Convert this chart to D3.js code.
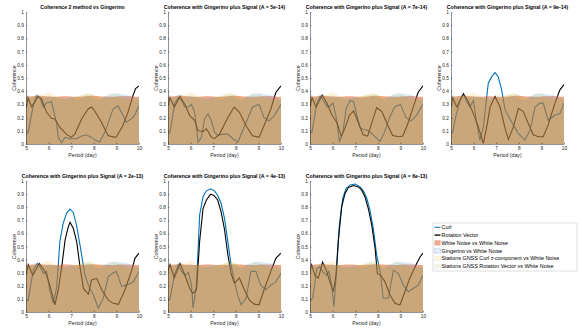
<!DOCTYPE html>
<html>
<head>
<meta charset="utf-8">
<script src="https://cdn.jsdelivr.net/npm/d3@7"></script>
<style>
  body { margin: 0; background: #fff; }
  svg { font-family: "Liberation Sans", Arial, sans-serif; }
  .axis path, .axis line { stroke: #262626; stroke-width: 0.5; }
  .axis text { fill: #262626; font-size: 4.8px; }
</style>
</head>
<body>
<div id="chart"></div>
<script>
// period grid of the noise reference bands (same in every panel)
var noisePeriod = [5, 5.25, 5.5, 5.75, 6, 6.25, 6.5, 6.75, 7, 7.25, 7.5, 7.75, 8, 8.25, 8.5, 8.75, 9, 9.25, 9.5, 9.75, 10];
var whiteNoise     = [0.36, 0.362, 0.365, 0.363, 0.36, 0.358, 0.36, 0.362, 0.36, 0.358, 0.36, 0.363, 0.365, 0.362, 0.36, 0.358, 0.36, 0.362, 0.363, 0.36, 0.358];
var gingerinoNoise = [0.39, 0.345, 0.375, 0.35, 0.36, 0.35, 0.335, 0.34, 0.35, 0.335, 0.345, 0.36, 0.345, 0.33, 0.355, 0.37, 0.38, 0.375, 0.37, 0.35, 0.33];
var stationsCurl   = [0.35, 0.36, 0.37, 0.375, 0.39, 0.37, 0.34, 0.33, 0.345, 0.36, 0.375, 0.38, 0.37, 0.35, 0.34, 0.345, 0.355, 0.345, 0.335, 0.345, 0.35];
var stationsRot    = [0.355, 0.35, 0.36, 0.355, 0.35, 0.36, 0.355, 0.345, 0.35, 0.36, 0.37, 0.385, 0.37, 0.345, 0.36, 0.385, 0.38, 0.36, 0.34, 0.33, 0.34];

// [period, coherence]
var curlBase = [[5,0.075],[5.1,0.09],[5.32,0.29],[5.47,0.365],[5.62,0.35],[5.76,0.28],[5.9,0.31],[6.13,0.32],[6.35,0.16],[6.43,0.05],[6.57,0.01],[6.72,0.05],[6.95,0.04],[7.24,0.04],[7.46,0.06],[7.68,0.07],[7.9,0.05],[8.12,0.025],[8.26,0.015],[8.49,0.09],[8.7,0.19],[8.85,0.265],[9.07,0.29],[9.22,0.24],[9.44,0.165],[9.66,0.19],[9.8,0.215],[10,0.29]];
var rotBase = [[5,0.27],[5.09,0.35],[5.25,0.28],[5.54,0.36],[5.69,0.34],[5.91,0.24],[6.13,0.195],[6.28,0.19],[6.5,0.125],[6.79,0.075],[7,0.05],[7.16,0.075],[7.46,0.19],[7.75,0.265],[7.9,0.28],[8.04,0.25],[8.34,0.165],[8.63,0.065],[8.93,0.05],[9.0,0.055],[9.29,0.14],[9.51,0.24],[9.74,0.37],[9.85,0.42],[10,0.44]];

var curl5e14 = [[5,0.075],[5.09,0.09],[5.3,0.31],[5.45,0.35],[5.6,0.33],[5.75,0.28],[5.9,0.28],[6.04,0.30],[6.18,0.24],[6.33,0.015],[6.48,0.05],[6.62,0.19],[6.77,0.23],[6.92,0.175],[7.06,0.09],[7.2,0.065],[7.43,0.075],[7.65,0.075],[7.87,0.04],[8.1,0.015],[8.3,0.10],[8.52,0.19],[8.74,0.28],[9.03,0.30],[9.25,0.20],[9.47,0.175],[9.7,0.215],[10,0.30]];
var rot5e14 = [[5,0.29],[5.09,0.35],[5.28,0.28],[5.53,0.36],[5.75,0.30],[5.96,0.215],[6.18,0.18],[6.33,0.10],[6.55,0.095],[6.7,0.115],[6.92,0.05],[7.06,0.04],[7.28,0.075],[7.57,0.175],[7.87,0.265],[7.94,0.28],[8.16,0.24],[8.45,0.14],[8.74,0.063],[9.03,0.05],[9.25,0.14],[9.55,0.265],[9.77,0.39],[10,0.44]];

var curl7e14 = [[5,0.08],[5.09,0.09],[5.3,0.31],[5.45,0.36],[5.6,0.33],[5.76,0.28],[5.9,0.29],[6.02,0.31],[6.16,0.2],[6.3,0.02],[6.45,0.08],[6.6,0.27],[6.78,0.33],[6.93,0.32],[7.07,0.22],[7.22,0.12],[7.4,0.11],[7.6,0.1],[7.85,0.06],[8.1,0.02],[8.3,0.09],[8.52,0.2],[8.74,0.28],[9.0,0.3],[9.25,0.2],[9.47,0.175],[9.7,0.215],[10,0.30]];
var rot7e14 = [[5,0.28],[5.09,0.35],[5.27,0.28],[5.54,0.37],[5.75,0.31],[5.97,0.22],[6.2,0.16],[6.38,0.06],[6.55,0.12],[6.75,0.22],[6.93,0.25],[7.12,0.17],[7.35,0.07],[7.55,0.06],[7.75,0.17],[7.95,0.275],[8.18,0.245],[8.42,0.15],[8.66,0.065],[8.95,0.055],[9.1,0.06],[9.3,0.14],[9.55,0.27],[9.78,0.39],[10,0.44]];

var curl9e14 = [[5,0.08],[5.08,0.09],[5.2,0.2],[5.4,0.33],[5.55,0.38],[5.7,0.32],[5.84,0.28],[5.99,0.33],[6.14,0.155],[6.28,0.03],[6.43,0.13],[6.65,0.46],[6.8,0.51],[6.95,0.54],[7.09,0.51],[7.24,0.41],[7.39,0.26],[7.54,0.21],[7.76,0.145],[7.98,0.08],[8.27,0.03],[8.5,0.105],[8.72,0.28],[8.94,0.31],[9.08,0.31],[9.3,0.18],[9.6,0.22],[9.82,0.23],[10,0.31]];
var rot9e14 = [[5,0.28],[5.08,0.35],[5.25,0.28],[5.55,0.38],[5.77,0.32],[5.99,0.23],[6.21,0.13],[6.43,0.005],[6.58,0.13],[6.73,0.28],[6.95,0.36],[7.17,0.28],[7.39,0.12],[7.54,0.035],[7.76,0.13],[7.98,0.27],[8.2,0.245],[8.42,0.155],[8.64,0.07],[8.87,0.055],[9.08,0.055],[9.3,0.145],[9.6,0.31],[9.82,0.41],[10,0.45]];

var curl2e13 = [[5,0.085],[5.1,0.09],[5.32,0.32],[5.5,0.37],[5.62,0.345],[5.77,0.295],[5.91,0.31],[6.06,0.155],[6.21,0.066],[6.36,0.19],[6.5,0.54],[6.65,0.68],[6.8,0.755],[6.95,0.785],[7.09,0.76],[7.24,0.66],[7.39,0.51],[7.61,0.28],[7.76,0.205],[7.98,0.13],[8.2,0.03],[8.42,0.105],[8.64,0.27],[8.86,0.30],[9.0,0.31],[9.23,0.195],[9.45,0.205],[9.75,0.23],[10,0.31]];
var rot2e13 = [[5,0.28],[5.1,0.36],[5.3,0.28],[5.59,0.37],[5.84,0.31],[6.03,0.22],[6.28,0.055],[6.43,0.17],[6.58,0.345],[6.73,0.55],[6.87,0.65],[6.95,0.685],[7.09,0.64],[7.24,0.54],[7.39,0.345],[7.54,0.18],[7.76,0.135],[7.9,0.245],[8.13,0.257],[8.35,0.17],[8.64,0.09],[8.86,0.066],[9.09,0.058],[9.38,0.17],[9.68,0.32],[9.82,0.41],[10,0.45]];

var curl4e13 = [[5,0.085],[5.09,0.10],[5.28,0.28],[5.45,0.36],[5.6,0.31],[5.75,0.28],[5.9,0.30],[6.04,0.205],[6.11,0.03],[6.26,0.205],[6.4,0.74],[6.55,0.88],[6.7,0.925],[6.89,0.94],[7.06,0.925],[7.2,0.89],[7.35,0.83],[7.5,0.715],[7.65,0.535],[7.79,0.36],[7.94,0.23],[8.08,0.13],[8.23,0.055],[8.45,0.105],[8.67,0.31],[8.89,0.31],[9.1,0.205],[9.33,0.17],[9.55,0.205],[9.77,0.23],[10,0.295]];
var rot4e13 = [[5,0.31],[5.09,0.36],[5.28,0.26],[5.53,0.37],[5.75,0.28],[5.96,0.18],[6.1,0.14],[6.26,0.17],[6.4,0.54],[6.55,0.79],[6.7,0.855],[6.89,0.90],[7.03,0.89],[7.2,0.855],[7.35,0.765],[7.5,0.63],[7.65,0.435],[7.79,0.295],[7.94,0.22],[8.16,0.26],[8.38,0.17],[8.6,0.09],[8.82,0.06],[9.03,0.055],[9.25,0.17],[9.55,0.31],[9.77,0.41],[10,0.45]];

var curl6e13 = [[5,0.085],[5.12,0.105],[5.3,0.33],[5.44,0.345],[5.59,0.30],[5.74,0.28],[5.84,0.31],[5.96,0.205],[6.06,0.04],[6.18,0.33],[6.3,0.665],[6.45,0.87],[6.6,0.945],[6.77,0.97],[6.99,0.977],[7.21,0.957],[7.36,0.925],[7.51,0.87],[7.65,0.78],[7.8,0.64],[7.95,0.435],[8.1,0.31],[8.24,0.105],[8.47,0.105],[8.69,0.32],[8.91,0.295],[9.13,0.205],[9.35,0.155],[9.57,0.18],[9.79,0.205],[10,0.28]];
var rot6e13 = [[5,0.31],[5.07,0.36],[5.22,0.28],[5.37,0.26],[5.56,0.38],[5.74,0.31],[5.88,0.23],[6.03,0.155],[6.15,0.28],[6.25,0.54],[6.4,0.80],[6.55,0.905],[6.7,0.95],[6.92,0.965],[7.14,0.955],[7.29,0.93],[7.43,0.88],[7.58,0.79],[7.73,0.665],[7.88,0.485],[7.98,0.295],[8.13,0.28],[8.32,0.23],[8.54,0.13],[8.76,0.066],[8.98,0.053],[9.2,0.155],[9.42,0.26],[9.72,0.37],[9.87,0.42],[10,0.45]];

var titles = [
  'Coherence 2 method vs Gingerino',
  'Coherence with Gingerino plus Signal (A = 5e-14)',
  'Coherence with Gingerino plus Signal (A = 7e-14)',
  'Coherence with Gingerino plus Signal (A = 9e-14)',
  'Coherence with Gingerino plus Signal (A = 2e-13)',
  'Coherence with Gingerino plus Signal (A = 4e-13)',
  'Coherence with Gingerino plus Signal (A = 6e-13)'
];
var curlSeries = [curlBase, curl5e14, curl7e14, curl9e14, curl2e13, curl4e13, curl6e13];
var rotSeries = [rotBase, rot5e14, rot7e14, rot9e14, rot2e13, rot4e13, rot6e13];

var periodTicks = [5, 6, 7, 8, 9, 10];
var coherenceTicks = [0, 0.1, 0.2, 0.3, 0.4, 0.5, 0.6, 0.7, 0.8, 0.9, 1];

var legendLabels = ['Curl', 'Rotation Vector', 'White Noise vs White Noise', 'Gingerino vs White Noise',
  'Stations GNSS Curl z-component vs White Noise', 'Stations GNSS Rotation Vector vs White Noise'];

var width = 582, height = 333;
var colLeft = [26, 168, 310, 451], axW = 113;
var rowBox = [{top: 12, bot: 144}, {top: 181, bot: 312}];

var bands = [
  {values: whiteNoise, fill: '#D95319', op: 0.5, stroke: 'none'},
  {values: gingerinoNoise, fill: '#4D8FE0', op: 0.15, stroke: '#6f9fe8', dash: '1.5,1'},
  {values: stationsCurl, fill: '#EDB120', op: 0.15, stroke: 'none'},
  {values: stationsRot, fill: '#77AC30', op: 0.12, stroke: 'none'}
];

var svg = d3.select('#chart').append('svg')
    .attr('width', width).attr('height', height);

titles.forEach(function(title, i){
    var r = rowBox[i < 4 ? 0 : 1],
        x0 = colLeft[i % 4],
        h = r.bot - r.top;
    var x = d3.scaleLinear().domain([5, 10]).range([0, axW]),
        y = d3.scaleLinear().domain([0, 1]).range([h, 0]);

    var g = svg.append('g').attr('transform', 'translate('+x0+','+r.top+')');
    g.append('clipPath').attr('id', 'clip'+i)
        .append('rect').attr('width', axW).attr('height', h);
    var plot = g.append('g').attr('clip-path', 'url(#clip'+i+')');

    var line = d3.line().x(function(d){ return x(d[0]); }).y(function(d){ return y(d[1]); });
    plot.append('path').attr('d', line(curlSeries[i]))
        .attr('fill', 'none').attr('stroke', '#0072BD').attr('stroke-width', 1.1);
    plot.append('path').attr('d', line(rotSeries[i]))
        .attr('fill', 'none').attr('stroke', '#000').attr('stroke-width', 1.1);

    bands.forEach(function(b){
        var area = d3.area().curve(d3.curveMonotoneX)
            .x(function(d, j){ return x(noisePeriod[j]); })
            .y0(y(0)).y1(function(d){ return y(d); });
        plot.append('path').attr('d', area(b.values))
            .attr('fill', b.fill).attr('fill-opacity', b.op).attr('stroke', 'none');
        if(b.stroke != 'none'){
            var top = d3.line().curve(d3.curveMonotoneX)
                .x(function(d, j){ return x(noisePeriod[j]); })
                .y(function(d){ return y(d); });
            plot.append('path').attr('d', top(b.values))
                .attr('fill', 'none').attr('stroke', b.stroke).attr('stroke-width', 0.4)
                .attr('stroke-opacity', 0.6).attr('stroke-dasharray', b.dash);
        }
    });

    g.append('g').attr('class', 'axis').attr('transform', 'translate(0,'+h+')')
        .call(d3.axisBottom(x).tickValues(periodTicks).tickFormat(d3.format('d'))
            .tickSize(-1.3).tickSizeOuter(0).tickPadding(2.2));
    g.append('g').attr('class', 'axis')
        .call(d3.axisLeft(y).tickValues(coherenceTicks)
            .tickFormat(d3.format('~g')).tickSize(-1.3).tickSizeOuter(0).tickPadding(2));

    g.append('text').attr('x', axW/2).attr('y', -3.4)
        .attr('text-anchor', 'middle').attr('font-size', 5.2).attr('font-weight', 'bold')
        .attr('fill', '#000').text(title);
    g.append('text').attr('x', axW/2).attr('y', h + 12.6)
        .attr('text-anchor', 'middle').attr('font-size', 5.2).attr('fill', '#262626').text('Period (day)');
    g.append('text').attr('transform', 'translate(-10.5,'+(h/2)+')rotate(-90)')
        .attr('text-anchor', 'middle').attr('font-size', 5.2).attr('fill', '#262626').text('Coherence');
});

// legend
var lg = svg.append('g').attr('transform', 'translate(433,223)');
lg.append('rect').attr('width', 144).attr('height', 48)
    .attr('fill', '#fff').attr('stroke', '#bdbdbd').attr('stroke-width', 0.5);
legendLabels.forEach(function(lab, k){
    var cy = 4.3 + k*7.8;
    if(k < 2){
        lg.append('line').attr('x1', 1.5).attr('x2', 7.5).attr('y1', cy).attr('y2', cy)
            .attr('stroke', k == 0 ? '#0072BD' : '#000').attr('stroke-width', k == 0 ? 1 : 1.3);
    }else{
        var b = bands[k-2];
        lg.append('rect').attr('x', 1.5).attr('y', cy - 2.6).attr('width', 6).attr('height', 5.2)
            .attr('fill', b.fill).attr('fill-opacity', b.op)
            .attr('stroke', b.stroke == 'none' ? 'none' : b.stroke)
            .attr('stroke-width', 0.4).attr('stroke-dasharray', b.dash || null);
    }
    lg.append('text').attr('x', 8.5).attr('y', cy + 1.9)
        .attr('font-size', 5.4).attr('fill', '#000').text(lab);
});
</script>
</body>
</html>
